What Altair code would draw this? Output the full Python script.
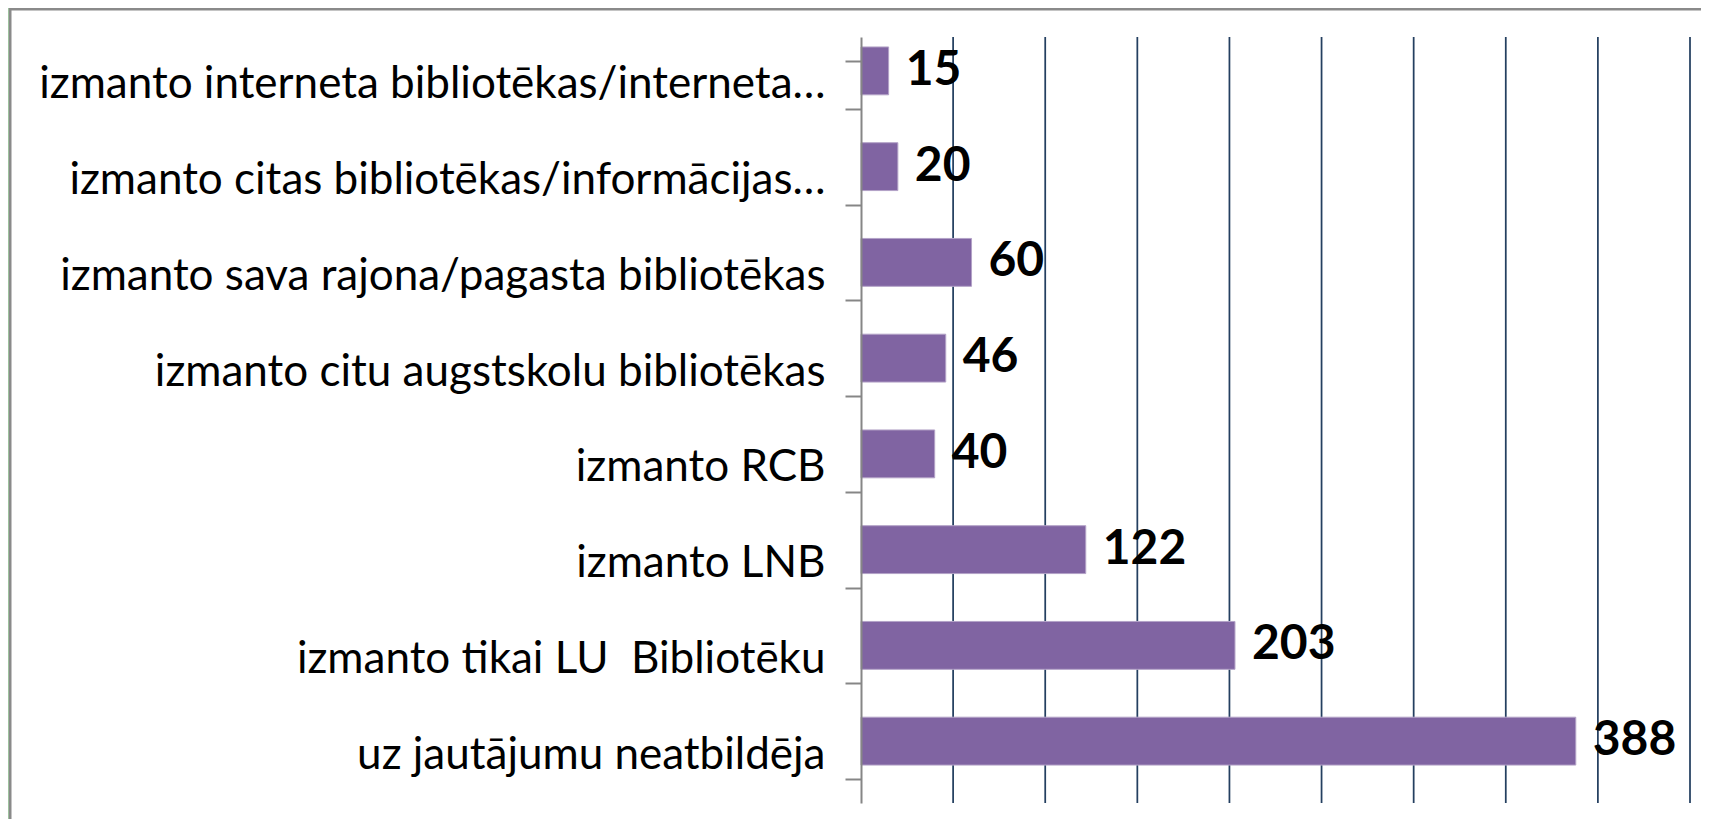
import altair as alt
import pandas as pd

categories = [
    "izmanto interneta bibliotēkas/interneta…",
    "izmanto citas bibliotēkas/informācijas…",
    "izmanto sava rajona/pagasta bibliotēkas",
    "izmanto citu augstskolu bibliotēkas",
    "izmanto RCB",
    "izmanto LNB",
    "izmanto tikai LU\u00a0 Bibliotēku",
    "uz jautājumu neatbildēja",
]
values = [15, 20, 60, 46, 40, 122, 203, 388]
grid_values = [50, 100, 150, 200, 250, 300, 350, 400, 450]

df = pd.DataFrame({"label": categories, "value": values})
grid_df = pd.DataFrame({"g": grid_values})

PLOT_W = 829
PLOT_H = 766

x_scale = alt.Scale(domain=[0, 450], nice=False, zero=True)

y_enc = alt.Y(
    "label:N",
    sort=categories,
    scale=alt.Scale(paddingInner=0.5, paddingOuter=0.25),
    axis=alt.Axis(
        title=None,
        tickBand="extent",
        tickSize=16,
        tickColor="#868686",
        tickWidth=2,
        domainColor="#868686",
        domainWidth=2,
        labelFont="Lato",
        labelFontSize=44,
        labelColor="black",
        labelPadding=20,
        labelLimit=1000,
        grid=False,
        zindex=1,
    ),
)
x_enc = alt.X("value:Q", scale=x_scale, axis=None)

panel = alt.Chart(pd.DataFrame({"a": [0]})).mark_rect(
    fill="white", stroke="#8a8a8a", strokeWidth=3
).encode(
    x=alt.value(-851), x2=alt.value(PLOT_W + 30),
    y=alt.value(-28), y2=alt.value(PLOT_H + 40),
)

grid = alt.Chart(grid_df).mark_rule(color="#243f60", strokeWidth=1.75).encode(
    x=alt.X("g:Q", scale=x_scale, axis=None),
    y=alt.value(0),
    y2=alt.value(PLOT_H),
)

bars = alt.Chart(df).mark_bar(
    color="#8064a2", stroke="#b3a2c7", strokeWidth=1, yOffset=-14
).encode(x=x_enc, y=y_enc)

text = alt.Chart(df).mark_text(
    align="left", baseline="middle", dx=17, yOffset=-14,
    font="Lato", fontSize=48, fontWeight="bold", color="black",
).encode(x=x_enc, y=y_enc, text="value:Q")

chart = alt.layer(panel, grid, bars, text).properties(
    width=PLOT_W,
    height=PLOT_H,
    autosize=alt.AutoSizeParams(type="none"),
    padding={"left": 853, "top": 29, "right": 11, "bottom": 16},
    background="#b3fbb3",
).configure_view(stroke=None)

chart.save("out.html", embed_options={"renderer": "svg", "actions": False})
